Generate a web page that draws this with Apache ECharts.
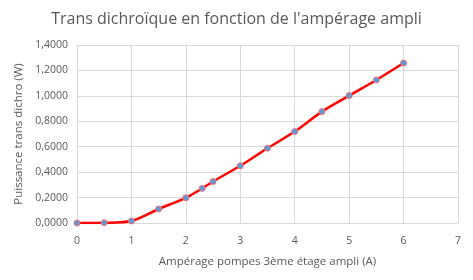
<!DOCTYPE html>
<html>
<head>
<meta charset="utf-8">
<script src="https://cdn.jsdelivr.net/npm/echarts@6/dist/echarts.min.js"></script>
<style>html,body{margin:0;padding:0;background:#fff}#c{width:473px;height:280px}</style>
</head>
<body>
<div id="c"></div>
<script>
const titleText = "Trans dichroïque en fonction de l'ampérage ampli";
const xTitle = "Ampérage pompes 3ème étage ampli (A)";
const yTitle = "Puissance trans dichro (W)";
const amps = [0, 0.5, 1, 1.5, 2, 2.3, 2.5, 3, 3.5, 4, 4.5, 5, 5.5, 6];
const power = [0.000, 0.002, 0.016, 0.110, 0.198, 0.272, 0.326, 0.450, 0.588, 0.719, 0.876, 1.002, 1.125, 1.258];

const chart = echarts.init(document.getElementById('c'), null, {renderer: 'canvas'});
const font = 'Open Sans';
chart.setOption({
  animation: false,
  title: {
    text: titleText, left: 'center', top: 6,
    textStyle: {fontFamily: font, fontSize: 16, fontWeight: 'normal', color: '#595959'}
  },
  grid: {left: 77, right: 15, top: 45, bottom: 57},
  xAxis: {
    type: 'value', min: 0, max: 7, interval: 1,
    name: xTitle, nameLocation: 'middle', nameGap: 33,
    nameTextStyle: {fontFamily: font, fontSize: 11.5, color: '#595959'},
    axisLine: {show: true, lineStyle: {color: '#d9d9d9'}},
    axisTick: {show: false},
    axisLabel: {fontFamily: font, fontSize: 10.5, color: '#595959', margin: 13},
    splitLine: {show: true, lineStyle: {color: '#d9d9d9'}}
  },
  yAxis: {
    type: 'value', min: 0, max: 1.4, interval: 0.2,
    name: yTitle, nameLocation: 'middle', nameGap: 48,
    nameTextStyle: {fontFamily: font, fontSize: 11.5, color: '#595959'},
    axisLine: {show: false},
    axisTick: {show: false},
    axisLabel: {fontFamily: font, fontSize: 10.5, color: '#595959', margin: 9,
      formatter: v => v.toFixed(4).replace('.', ',')},
    splitLine: {show: true, lineStyle: {color: '#d9d9d9'}}
  },
  series: [{
    type: 'line',
    data: amps.map((a, i) => [a, power[i]]),
    smooth: 0.3,
    symbol: 'circle', symbolSize: 6,
    lineStyle: {color: '#ff0000', width: 2.5},
    itemStyle: {color: '#5b9bd5', borderColor: '#f4707a', borderWidth: 1}
  }]
});
</script>
</body>
</html>
